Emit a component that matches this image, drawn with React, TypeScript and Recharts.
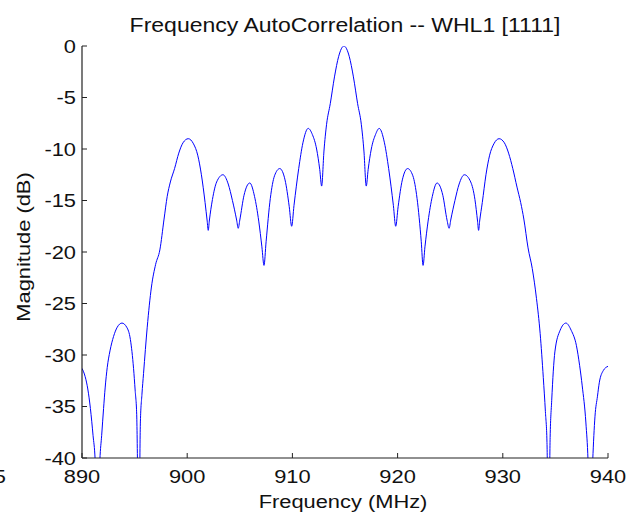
import React from "react";
import { LineChart, Line, XAxis, YAxis } from "recharts";

// ── Data ───────────────────────────────────────────────────────────────────────
const FREQ_MHZ = [
    890.0, 890.3, 890.55, 890.8, 891.05, 891.25, 891.48, 891.7, 891.87, 892.05,
    892.2, 892.4, 892.66, 893.0, 893.35, 893.8, 894.25, 894.6, 894.9, 895.05,
    895.2, 895.4, 895.55, 895.7, 895.85, 896.2, 896.6, 897.0, 897.4, 897.8,
    898.1, 898.4, 898.8, 899.2, 899.6, 900.1, 900.6, 901.0, 901.35, 901.7,
    901.9, 902.0, 902.1, 902.4, 902.8, 903.4, 903.9, 904.3, 904.7, 904.85,
    905.0, 905.4, 905.95, 906.4, 906.8, 907.1, 907.3, 907.5, 907.9, 908.3,
    908.8, 909.3, 909.7, 909.93, 910.15, 910.6, 911.0, 911.5, 911.9, 912.3,
    912.6, 912.78, 913.0, 913.25, 913.6, 914.0, 914.4, 914.9, 915.4, 915.8,
    916.2, 916.55, 916.8, 917.02, 917.2, 917.5, 917.9, 918.25, 918.75, 919.15,
    919.6, 919.82, 920.05, 920.45, 920.95, 921.45, 921.85, 922.25, 922.42, 922.6,
    922.9, 923.3, 923.75, 924.3, 924.7, 924.9, 925.05, 925.45, 925.85, 926.35,
    926.95, 927.35, 927.6, 927.7, 927.8, 928.05, 928.4, 928.75, 929.15, 929.65,
    930.15, 930.55, 930.95, 931.35, 931.7, 932.0, 932.4, 932.8, 933.2, 933.55,
    933.85, 934.05, 934.2, 934.35, 934.5, 934.65, 934.95, 935.45, 936.0, 936.5,
    937.0, 937.3, 937.55, 937.9, 938.1, 938.3, 938.55, 938.76, 939.0, 939.17,
    939.56, 940.0,
];

const MAGNITUDE_DB = [
    -31.3, -32.1, -33.3, -35.2, -37.8, -40.2, -48, -40.2, -37.8, -35.2,
    -33.2, -31.2, -29.6, -28.2, -27.3, -26.9, -27.3, -28.5, -31.3, -33.4,
    -35.8, -48, -36.5, -33.8, -31.8, -27.3, -23.4, -21.2, -19.8, -16.8,
    -14.6, -13.2, -11.9, -10.4, -9.4, -9.0, -9.5, -10.6, -12.5, -15.2,
    -17.0, -17.9, -17.0, -14.9, -13.2, -12.5, -13.4, -15.0, -16.9, -17.7,
    -16.9, -14.5, -13.3, -14.6, -17.0, -19.5, -21.3, -19.0, -14.8, -12.6,
    -11.9, -13.0, -15.6, -17.5, -15.5, -11.9, -9.4, -8.0, -8.6, -10.0,
    -12.0, -13.6, -10.2, -7.6, -5.6, -3.0, -1.0, 0, -1.0, -3.0,
    -5.6, -7.6, -10.2, -13.6, -12.0, -10.0, -8.6, -8.0, -9.4, -11.9,
    -15.5, -17.5, -15.6, -13.0, -11.9, -12.6, -14.8, -19.0, -21.3, -19.5,
    -17.0, -14.6, -13.3, -14.5, -16.9, -17.7, -16.9, -15.0, -13.4, -12.5,
    -13.2, -14.9, -17.0, -17.9, -17.0, -15.2, -12.5, -10.6, -9.5, -9.0,
    -9.4, -10.4, -11.9, -13.7, -15.2, -16.8, -19.6, -21.6, -24.5, -27.9,
    -32.2, -35.5, -38.5, -48, -38.0, -34.4, -29.7, -27.6, -26.9, -27.6,
    -29.1, -31.0, -33.0, -36.6, -40.2, -48, -40.2, -36.0, -34.0, -32.7,
    -31.5, -31.1,
];

const X_TICKS = [890, 900, 910, 920, 930, 940];
const Y_TICKS = [-40, -35, -30, -25, -20, -15, -10, -5, 0];

const data = FREQ_MHZ.map((f, i) => ({ f, mag: MAGNITUDE_DB[i] }));

// ── Styling ────────────────────────────────────────────────────────────────────
const FONT = '"Liberation Sans", Arial, Helvetica, sans-serif';
const STRETCH = 1.15; // reference text is a bit wider than plain Arial
const AXIS_COLOR = "#222";
const TEXT_COLOR = "#111";

const XTick = (props: any) => {
    const { x, y, payload } = props;
    return (
        <g>
            <line x1={x} y1={y} x2={x} y2={y - 5} stroke={AXIS_COLOR} strokeWidth={1} />
            <g transform={`translate(${x},${y + 25}) scale(${STRETCH},1)`}>
                <text textAnchor="middle" fontSize={19} fontFamily={FONT} fill={TEXT_COLOR}>
                    {payload.value}
                </text>
            </g>
        </g>
    );
};

const YTick = (props: any) => {
    const { x, y, payload } = props;
    return (
        <g>
            <line x1={x} y1={y} x2={x + 5} y2={y} stroke={AXIS_COLOR} strokeWidth={1} />
            <g transform={`translate(${x - 6},${y + 6.8}) scale(${STRETCH},1)`}>
                <text textAnchor="end" fontSize={19} fontFamily={FONT} fill={TEXT_COLOR}>
                    {payload.value}
                </text>
            </g>
        </g>
    );
};

const XLabel = (props: any) => {
    const vb = props.viewBox;
    const cx = vb.x + vb.width / 2 - 2;
    return (
        <g transform={`translate(${cx},${vb.y + 50}) scale(${STRETCH},1)`}>
            <text textAnchor="middle" fontSize={19} fontFamily={FONT} fill={TEXT_COLOR}>
                Frequency (MHz)
            </text>
        </g>
    );
};

const YLabel = (props: any) => {
    const vb = props.viewBox;
    const cy = vb.y + vb.height / 2 - 5;
    return (
        <g transform={`translate(30,${cy}) rotate(-90) scale(${STRETCH},1)`}>
            <text textAnchor="middle" fontSize={19} fontFamily={FONT} fill={TEXT_COLOR}>
                Magnitude (dB)
            </text>
        </g>
    );
};

export default function App() {
    return (
        <div style={{ position: "absolute", left: 0, top: 0, width: 639, height: 518, background: "#fff" }}>
            <div
                style={{
                    position: "absolute",
                    left: 0,
                    width: 690,
                    top: 14,
                    textAlign: "center",
                    fontFamily: FONT,
                    fontSize: 20,
                    lineHeight: "22px",
                    color: TEXT_COLOR,
                    transform: `scaleX(${STRETCH})`,
                    transformOrigin: "345px 0",
                    whiteSpace: "nowrap",
                }}
            >
                Frequency AutoCorrelation -- WHL1 [1111]
            </div>
            <svg width={20} height={518} style={{ position: "absolute", left: 0, top: 0 }}>
                <g transform={`translate(6,483) scale(${STRETCH},1)`}>
                    <text textAnchor="end" fontSize={19} fontFamily={FONT} fill={TEXT_COLOR}>5</text>
                </g>
            </svg>
            <LineChart
                width={639}
                height={518}
                data={data}
                margin={{ top: 46, right: 31, bottom: 0, left: 0 }}
                style={{ position: "absolute", left: 0, top: 0 }}
            >
                <XAxis
                    dataKey="f"
                    type="number"
                    domain={[890, 940]}
                    ticks={X_TICKS}
                    allowDataOverflow
                    height={60}
                    tickSize={0}
                    tickMargin={0}
                    tickLine={false}
                    tick={<XTick />}
                    axisLine={{ stroke: AXIS_COLOR, strokeWidth: 1.2 }}
                    label={{ content: <XLabel /> }}
                    interval={0}
                />
                <YAxis
                    type="number"
                    domain={[-40, 0]}
                    ticks={Y_TICKS}
                    allowDataOverflow
                    width={82}
                    tickSize={0}
                    tickMargin={0}
                    tickLine={false}
                    tick={<YTick />}
                    axisLine={{ stroke: AXIS_COLOR, strokeWidth: 1.2 }}
                    label={{ content: <YLabel /> }}
                    interval={0}
                />
                <Line
                    type="monotone"
                    dataKey="mag"
                    stroke="#0000ff"
                    strokeWidth={1}
                    dot={false}
                    isAnimationActive={false}
                />
            </LineChart>
        </div>
    );
}
